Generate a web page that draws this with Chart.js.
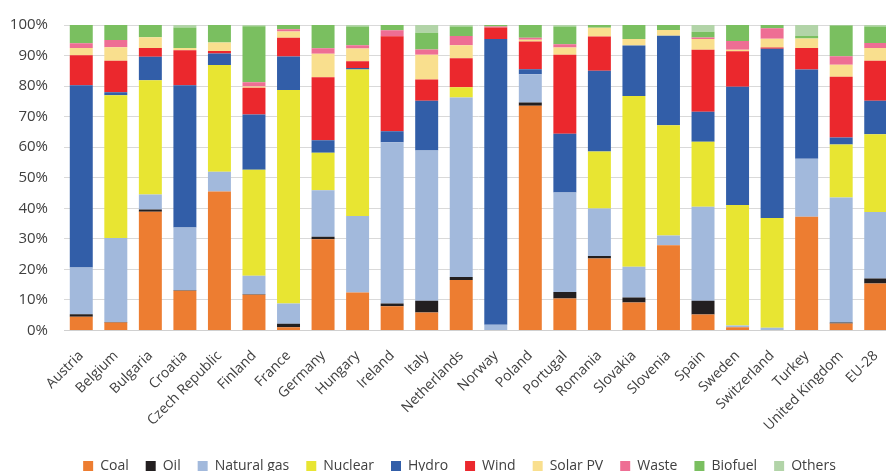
<!DOCTYPE html>
<html>
<head>
<meta charset="utf-8">
<script src="https://cdn.jsdelivr.net/npm/chart.js@4"></script>
<style>
    html, body { margin: 0; padding: 0; background: #fff; overflow: hidden; }
    #wrap { width: 918px; height: 471px; }
</style>
</head>
<body>
<div id="wrap"><canvas id="mixChart" width="918" height="471"></canvas></div>
<script>
// ===================================
// DATA (share of electricity generation, %)
// ===================================

const countries = ['Austria', 'Belgium', 'Bulgaria', 'Croatia', 'Czech Republic', 'Finland', 'France',
    'Germany', 'Hungary', 'Ireland', 'Italy', 'Netherlands', 'Norway', 'Poland', 'Portugal', 'Romania',
    'Slovakia', 'Slovenia', 'Spain', 'Sweden', 'Switzerland', 'Turkey', 'United Kingdom', 'EU-28'];

const coal    = [4.5, 2.6, 38.9, 13.0, 45.5, 11.7, 1.1, 29.9, 12.4, 7.9, 5.9, 16.5, 0, 73.6, 10.5, 23.6, 9.2, 27.9, 5.2, 1.1, 0, 37.2, 2.3, 15.4];
const oil     = [0.8, 0.2, 0.7, 0.2, 0, 0.2, 1.1, 0.8, 0, 0.9, 3.8, 1.0, 0, 1.0, 2.1, 0.8, 1.6, 0, 4.5, 0, 0, 0, 0.3, 1.6];
const gas     = [15.3, 27.5, 4.9, 20.5, 6.5, 6.0, 6.6, 15.2, 25.1, 52.8, 49.2, 58.8, 1.9, 9.3, 32.6, 15.5, 10.1, 3.2, 30.8, 0.5, 0.9, 19.0, 40.9, 21.8];
const nuclear = [0, 46.7, 37.4, 0, 34.9, 34.7, 69.9, 12.3, 47.9, 0, 0, 3.3, 0, 0, 0, 18.7, 55.9, 36.1, 21.3, 39.5, 35.9, 0, 17.4, 25.4];
const hydro   = [59.7, 1.0, 7.7, 46.6, 3.8, 18.1, 11.0, 4.1, 0.5, 3.6, 16.3, 0, 93.5, 1.6, 19.2, 26.4, 16.5, 29.3, 9.8, 38.7, 55.4, 29.2, 2.3, 11.0];
const wind    = [9.8, 10.3, 2.9, 11.4, 0.8, 8.8, 6.1, 20.6, 2.2, 31.1, 7.0, 9.5, 3.8, 9.1, 25.9, 11.2, 0, 0, 20.3, 11.6, 0.4, 7.1, 19.9, 13.1];
const solar   = [2.4, 4.4, 3.5, 0.8, 2.8, 0.4, 2.1, 7.7, 4.2, 0, 8.1, 4.3, 0, 0.6, 2.3, 2.9, 2.1, 1.9, 3.5, 0.5, 2.9, 3.1, 3.9, 4.2];
const waste   = [1.5, 2.4, 0, 0, 0, 1.4, 0.7, 1.8, 1.1, 2.0, 1.7, 3.0, 0.3, 0.6, 1.1, 0, 0, 0, 0.5, 2.9, 3.4, 0, 2.8, 1.6];
const biofuel = [6.0, 4.9, 4.0, 6.7, 5.8, 18.3, 1.4, 7.6, 6.1, 1.7, 5.5, 3.1, 0.5, 4.2, 5.8, 0.9, 4.6, 1.6, 1.9, 5.2, 1.1, 0.8, 10.0, 5.4];
const others  = [0, 0.2, 0, 0.8, 0, 0.5, 0, 0, 0.5, 0, 2.5, 0.5, 0, 0, 0.5, 0, 0, 0, 2.2, 0, 0, 3.6, 0.2, 0.5];

const yTicks = [0, 10, 20, 30, 40, 50, 60, 70, 80, 90, 100];

// ===================================
// CHART
// ===================================

const TEXT = '#404040';
const FONT = '"Open Sans", sans-serif';

const series = [
    { label: 'Coal',        data: coal,    color: '#ED7D31' },
    { label: 'Oil',         data: oil,     color: '#231F20' },
    { label: 'Natural gas', data: gas,     color: '#A2B9DC' },
    { label: 'Nuclear',     data: nuclear, color: '#E8E532' },
    { label: 'Hydro',       data: hydro,   color: '#325EA8' },
    { label: 'Wind',        data: wind,    color: '#EB282D' },
    { label: 'Solar PV',    data: solar,   color: '#F9DF8E' },
    { label: 'Waste',       data: waste,   color: '#EE6E94' },
    { label: 'Biofuel',     data: biofuel, color: '#7ABF60' },
    { label: 'Others',      data: others,  color: '#B2D4A8' }
];

// legend is centred on the whole chart width, not on the plot
const legendShift = {
    id: 'legendShift',
    afterLayout(chart) {
        if (chart.legend) {
            chart.legend.left += 13;
            chart.legend.right += 13;
        }
    }
};

new Chart(document.getElementById('mixChart'), {
    type: 'bar',
    data: {
        labels: countries,
        datasets: series.map(s => ({
            label: s.label,
            data: s.data,
            backgroundColor: s.color,
            borderWidth: 0,
            categoryPercentage: 1,
            barPercentage: 0.665
        }))
    },
    plugins: [legendShift],
    options: {
        responsive: false,
        animation: false,
        layout: { padding: { top: 19, right: 25, left: 0, bottom: -12 } },
        plugins: {
            tooltip: { enabled: false },
            legend: {
                position: 'bottom',
                labels: {
                    color: TEXT,
                    font: { family: FONT, size: 14 },
                    boxWidth: 10,
                    boxHeight: 10,
                    padding: 17
                }
            }
        },
        scales: {
            x: {
                stacked: true,
                grid: { display: false, drawTicks: false },
                border: { color: '#d0d0d0' },
                ticks: {
                    color: TEXT,
                    font: { family: FONT, size: 14 },
                    minRotation: 45,
                    maxRotation: 45,
                    padding: 17,
                    autoSkip: false
                },
                afterFit(scale) { scale.height = 111.5; }
            },
            y: {
                stacked: true,
                min: 0,
                max: 100,
                afterBuildTicks(scale) { scale.ticks = yTicks.map(v => ({ value: v })); },
                grid: { color: '#d9d9d9', drawTicks: false },
                border: { display: false },
                ticks: {
                    color: TEXT,
                    font: { family: FONT, size: 15 },
                    padding: 16,
                    callback: v => v + '%'
                },
                afterFit(scale) { scale.width = 64; }
            }
        }
    }
});
</script>
</body>
</html>
